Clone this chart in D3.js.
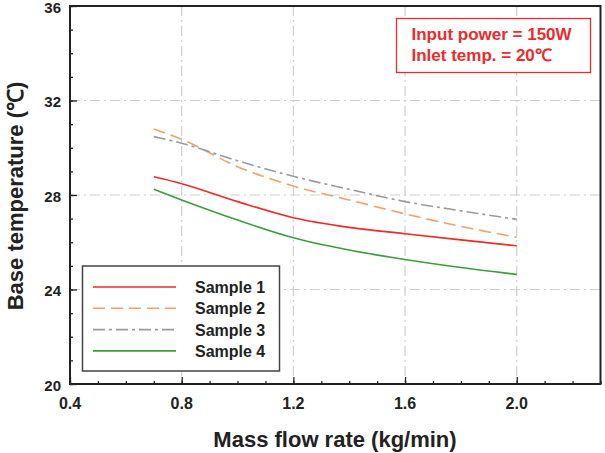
<!DOCTYPE html>
<html>
<head>
<meta charset="utf-8">
<script src="https://cdn.jsdelivr.net/npm/d3@7"></script>
<style>
  body { margin: 0; background: #fff; }
  svg { font-family: "Liberation Sans", Arial, sans-serif; font-weight: bold; }
</style>
</head>
<body>
<script>
// mass flow rate (kg/min)
var flow = [0.7, 0.8, 1.0, 1.2, 1.4, 1.6, 1.8, 2.0];
// base temperature (deg C) per sample
var sample1 = [28.77, 28.48, 27.72, 27.04, 26.63, 26.36, 26.1, 25.85];
var sample2 = [30.79, 30.36, 29.2, 28.38, 27.79, 27.2, 26.67, 26.21];
var sample3 = [30.47, 30.19, 29.45, 28.79, 28.24, 27.72, 27.33, 26.97];
var sample4 = [28.24, 27.79, 26.94, 26.19, 25.67, 25.27, 24.93, 24.64];
var names = ["Sample 1", "Sample 2", "Sample 3", "Sample 4"];
var xTicks = [0.4, 0.8, 1.2, 1.6, 2.0];
var yTicks = [20, 24, 28, 32, 36];

const w = 605, h = 453;
const pLeft = 70, pRight = 600.5, pTop = 6, pBottom = 384;

const series = [
    {name: names[0], values: sample1, color: "#ee2a2a", dash: null},
    {name: names[1], values: sample2, color: "#f4a06a", dash: "12,6"},
    {name: names[2], values: sample3, color: "#9a9a9a", dash: "12,4,3,4"},
    {name: names[3], values: sample4, color: "#3a9e3a", dash: null}
];

const xScale = d3.scaleLinear().domain([0.4, 2.3]).range([pLeft, pRight]);
const yScale = d3.scaleLinear().domain([20, 36]).range([pBottom, pTop]);

const svg = d3.select("body").append("svg")
    .attr("width", w)
    .attr("height", h);

// grid
svg.append("g").selectAll("line")
    .data(xTicks.slice(1))
    .enter().append("line")
    .attr("x1", d => xScale(d)).attr("x2", d => xScale(d))
    .attr("y1", pTop).attr("y2", pBottom)
    .attr("stroke", "#cfcfcf").attr("stroke-width", 1.2)
    .attr("stroke-dasharray", "10,4,2,4");

svg.append("g").selectAll("line")
    .data(yTicks.slice(1, -1))
    .enter().append("line")
    .attr("x1", pLeft).attr("x2", pRight)
    .attr("y1", d => yScale(d)).attr("y2", d => yScale(d))
    .attr("stroke", "#cfcfcf").attr("stroke-width", 1.2)
    .attr("stroke-dasharray", "10,4,2,4");

// lines
const line = d3.line()
    .x((d, i) => xScale(flow[i]))
    .y(d => yScale(d))
    .curve(d3.curveMonotoneX);

series.forEach(s => {
    svg.append("path")
        .attr("d", line(s.values))
        .attr("fill", "none")
        .attr("stroke", s.color)
        .attr("stroke-width", 1.6)
        .attr("stroke-dasharray", s.dash);
});

// axes (inward ticks)
svg.append("g")
    .attr("transform", "translate(0," + pBottom + ")")
    .call(d3.axisTop(xScale).tickValues(d3.range(4, 24).map(d => d / 10)).tickSize(3).tickFormat(""))
    .select(".domain").remove();

svg.append("g")
    .attr("transform", "translate(0," + pBottom + ")")
    .call(d3.axisTop(xScale).tickValues(xTicks).tickSize(7).tickFormat(""))
    .select(".domain").remove();

svg.append("g")
    .attr("transform", "translate(" + pLeft + ",0)")
    .call(d3.axisRight(yScale).ticks(16).tickSize(3).tickFormat(""))
    .select(".domain").remove();

svg.append("g")
    .attr("transform", "translate(" + pLeft + ",0)")
    .call(d3.axisRight(yScale).tickValues(yTicks).tickSize(7).tickFormat(""))
    .select(".domain").remove();

svg.selectAll(".tick line").attr("stroke", "#222").attr("stroke-width", 1.3);

// tick labels
svg.append("g").selectAll("text")
    .data(xTicks)
    .enter().append("text")
    .attr("x", d => xScale(d))
    .attr("y", 409)
    .attr("text-anchor", "middle")
    .attr("font-size", 16)
    .attr("fill", "#222")
    .text(d => d3.format(".1f")(d));

svg.append("g").selectAll("text")
    .data(yTicks)
    .enter().append("text")
    .attr("x", 61)
    .attr("y", d => yScale(d) + 6.5)
    .attr("text-anchor", "end")
    .attr("font-size", 15)
    .attr("fill", "#222")
    .text(d => d);

// frame
svg.append("rect")
    .attr("x", pLeft).attr("y", pTop)
    .attr("width", pRight - pLeft).attr("height", pBottom - pTop)
    .attr("fill", "none")
    .attr("stroke", "#222")
    .attr("stroke-width", 2);

// axis titles
svg.append("text")
    .text("Mass flow rate (kg/min)")
    .attr("x", 335)
    .attr("y", 447)
    .attr("text-anchor", "middle")
    .attr("font-size", 22)
    .attr("fill", "#222");

svg.append("text")
    .text("Base temperature (℃)")
    .attr("text-anchor", "middle")
    .attr("font-size", 22)
    .attr("fill", "#222")
    .attr("transform", "translate(23,196)rotate(-90)");

// annotation
svg.append("rect")
    .attr("x", 396.5).attr("y", 18.5)
    .attr("width", 194).attr("height", 54)
    .attr("fill", "#fff")
    .attr("stroke", "#ee2a2a")
    .attr("stroke-width", 1.3);

svg.append("text")
    .text("Input power = 150W")
    .attr("x", 411.5).attr("y", 40)
    .attr("font-size", 17)
    .attr("fill", "#ee2a2a");

svg.append("text")
    .text("Inlet temp. = 20℃")
    .attr("x", 411.5).attr("y", 61)
    .attr("font-size", 17)
    .attr("fill", "#ee2a2a");

// legend
var legend = svg.append("g");

legend.append("rect")
    .attr("x", 82.5).attr("y", 266)
    .attr("width", 197).attr("height", 105)
    .attr("fill", "#fff")
    .attr("stroke", "#444")
    .attr("stroke-width", 1.5);

series.forEach((s, i) => {
    var ly = 287 + i * 21.3;
    legend.append("line")
        .attr("x1", 93).attr("x2", 176)
        .attr("y1", ly).attr("y2", ly)
        .attr("stroke", s.color)
        .attr("stroke-width", 1.6)
        .attr("stroke-dasharray", s.dash);
    legend.append("text")
        .text(s.name)
        .attr("x", 195)
        .attr("y", ly + 6)
        .attr("font-size", 16)
        .attr("fill", "#222");
});
</script>
</body>
</html>
